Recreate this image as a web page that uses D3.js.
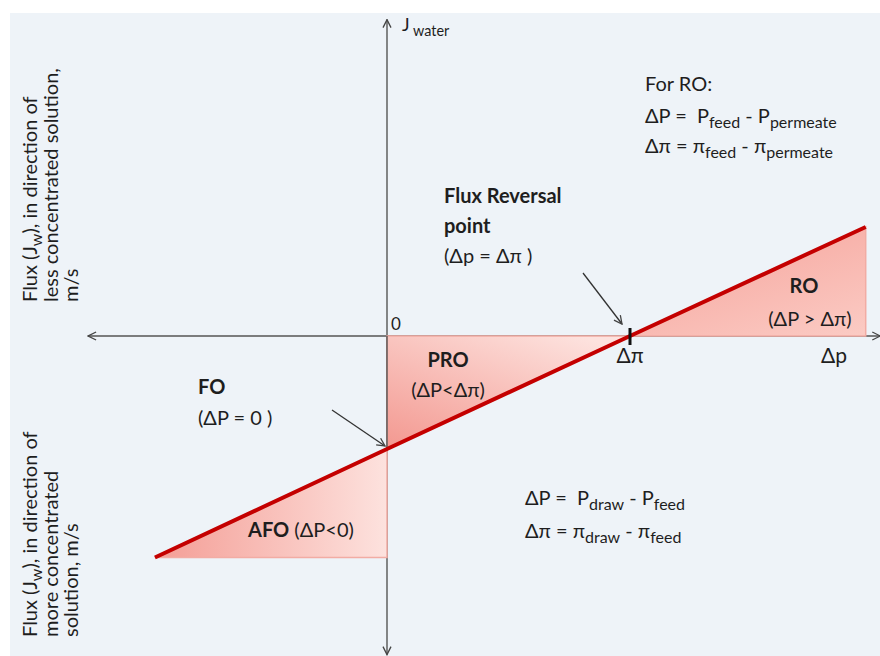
<!DOCTYPE html>
<html>
<head>
<meta charset="utf-8">
<script src="https://cdn.jsdelivr.net/npm/d3@7"></script>
<style>
  body { margin: 0; background: #fff; }
  svg text { font-family: Lato, "Open Sans", sans-serif; fill: #1e1e1e; white-space: pre; }
</style>
</head>
<body>
<div id="chart"></div>
<script>
// size of the drawing
var w = 880;
var h = 656;

// flux line, x in units of the osmotic pressure difference (Δπ = 1)
var deltaP = [-0.955, 0, 1, 1.97];
var flux = [-1.96, -1, 0, 0.965];

// the three shaded triangles
var regionNames = ["AFO", "PRO", "RO"];
var regionP = [[-0.955, 0, 0], [0, 1, 0], [1, 1.97, 1.97]];
var regionJ = [[-1.96, -1, -1.96], [0, 0, -1], [0, 0.965, 0]];

// axis extent and tick labels
var axisP = [-1.23, 2.03];
var axisJ = [-2.82, 2.8];
var tickP = [1, 1.84];
var tickLabels = ["\u0394\u03c0", "\u0394p"];

var x = d3.scaleLinear().domain([0, 1]).range([387, 630]);
var y = d3.scaleLinear().domain([0, -1]).range([336, 449]);

var svg = d3.select("#chart").append("svg")
  .attr("width", w)
  .attr("height", h);

// background panel
svg.append("rect")
  .attr("x", 10).attr("y", 13)
  .attr("width", w - 10).attr("height", h - 13)
  .attr("fill", "#eef3f8");

var defs = svg.append("defs");

// open arrow heads
defs.append("marker")
  .attr("id", "arr")
  .attr("viewBox", "0 0 10 10")
  .attr("refX", 9).attr("refY", 5)
  .attr("markerWidth", 10).attr("markerHeight", 10)
  .attr("markerUnits", "userSpaceOnUse")
  .attr("orient", "auto-start-reverse")
  .append("path")
  .attr("d", "M1,1 L9,5 L1,9")
  .attr("fill", "none")
  .attr("stroke", "#444")
  .attr("stroke-width", 1.3);

// gradients for the triangles
var grads = [
  { id: "gAFO", x1: 0, y1: 0.3, x2: 1, y2: 0.3, c1: "#f49d95", c2: "#fde2de" },
  { id: "gPRO", x1: 0, y1: 1, x2: 0.8, y2: 0, c1: "#f39890", c2: "#fde2de" },
  { id: "gRO", x1: 0.3, y1: 0, x2: 1, y2: 1, c1: "#f6a69e", c2: "#fbcbc4" }
];
grads.forEach(function(g) {
  var lg = defs.append("linearGradient")
    .attr("id", g.id)
    .attr("x1", g.x1).attr("y1", g.y1)
    .attr("x2", g.x2).attr("y2", g.y2);
  lg.append("stop").attr("offset", "0%").attr("stop-color", g.c1);
  lg.append("stop").attr("offset", "100%").attr("stop-color", g.c2);
});

// axes
svg.append("line")
  .attr("x1", x(axisP[0])).attr("x2", x(axisP[1]))
  .attr("y1", y(0)).attr("y2", y(0))
  .attr("stroke", "#555").attr("stroke-width", 1.4)
  .attr("marker-start", "url(#arr)")
  .attr("marker-end", "url(#arr)");

svg.append("line")
  .attr("x1", x(0)).attr("x2", x(0))
  .attr("y1", y(axisJ[1])).attr("y2", y(axisJ[0]))
  .attr("stroke", "#555").attr("stroke-width", 1.4)
  .attr("marker-start", "url(#arr)")
  .attr("marker-end", "url(#arr)");

// shaded regions
var tri = d3.line()
  .x(function(d) { return x(d[0]); })
  .y(function(d) { return y(d[1]); });

svg.selectAll(".region")
  .data(regionNames)
  .enter()
  .append("path")
  .attr("class", "region")
  .attr("d", function(d, i) {
    return tri(d3.zip(regionP[i], regionJ[i])) + "Z";
  })
  .attr("fill", function(d) { return "url(#g" + d + ")"; })
  .attr("stroke", "#f2aca4")
  .attr("stroke-width", 1.5);

// the y axis stays visible along the left side of PRO
svg.append("line")
  .attr("x1", x(0)).attr("x2", x(0))
  .attr("y1", y(0)).attr("y2", y(-1))
  .attr("stroke", "#555").attr("stroke-width", 1.4);

// flux line
svg.append("path")
  .datum(d3.zip(deltaP, flux))
  .attr("fill", "none")
  .attr("stroke", "#c40000")
  .attr("stroke-width", 4)
  .attr("d", tri);

// tick at Δπ
svg.append("line")
  .attr("x1", x(1)).attr("x2", x(1))
  .attr("y1", y(0) - 8).attr("y2", y(0) + 9)
  .attr("stroke", "#111").attr("stroke-width", 3);

// tick labels
svg.selectAll(".tlab")
  .data(tickP)
  .enter()
  .append("text")
  .attr("class", "tlab")
  .attr("x", function(d) { return x(d); })
  .attr("y", y(0) + 27)
  .attr("text-anchor", "middle")
  .attr("font-size", 21)
  .text(function(d, i) { return tickLabels[i]; });

svg.append("text")
  .attr("x", x(0) + 4).attr("y", y(0) - 6)
  .attr("font-size", 17)
  .text("0");

// text with sub scripts: parts are [text, kind] where kind is "", "sub" or "b"
function rich(px, py, size, parts, anchor) {
  var t = svg.append("text")
    .attr("x", px).attr("y", py)
    .attr("font-size", size)
    .attr("text-anchor", anchor || "start");
  var down = false;
  parts.forEach(function(p) {
    var s = t.append("tspan").text(p[0]);
    if (p[1] === "sub") {
      s.attr("font-size", size * 0.8).attr("dy", down ? 0 : 5);
      down = true;
    } else {
      if (down) s.attr("dy", -5);
      down = false;
      if (p[1] === "b") s.attr("font-weight", "bold");
    }
  });
  return t;
}

// J water
rich(402, 31, 18, [["J", ""], [" water", "sub"]]);

// y axis labels
function vlabel(px, py, lines) {
  lines.forEach(function(parts, i) {
    var t = rich(0, 0, 20, parts);
    t.attr("transform", "translate(" + (px + i * 20.5) + "," + py + ") rotate(-90)");
  });
}
vlabel(37, 302, [
  [["Flux (J", ""], ["w", "sub"], ["), in direction of", ""]],
  [["less concentrated solution,", ""]],
  [["m/s", ""]]
]);
vlabel(37, 637, [
  [["Flux (J", ""], ["w", "sub"], ["), in direction of", ""]],
  [["more concentrated", ""]],
  [["solution, m/s", ""]]
]);

// equations for RO
rich(645, 91, 20, [["For RO:", ""]]);
rich(645, 123, 20, [["\u0394P =  P", ""], ["feed", "sub"], [" - P", ""], ["permeate", "sub"]]);
rich(645, 153, 20, [["\u0394\u03c0 = \u03c0", ""], ["feed", "sub"], [" - \u03c0", ""], ["permeate", "sub"]]);

// equations for osmotic processes
rich(525, 505, 20, [["\u0394P =  P", ""], ["draw", "sub"], [" - P", ""], ["feed", "sub"]]);
rich(525, 538, 20, [["\u0394\u03c0 = \u03c0", ""], ["draw", "sub"], [" - \u03c0", ""], ["feed", "sub"]]);

// flux reversal point
rich(444, 203, 20, [["Flux Reversal", "b"]]);
rich(444, 233, 20, [["point", "b"]]);
rich(444, 263, 20, [["(\u0394p = \u0394\u03c0 )", ""]]);
svg.append("line")
  .attr("x1", 583).attr("y1", 273)
  .attr("x2", x(1) - 8).attr("y2", y(0) - 12)
  .attr("stroke", "#333").attr("stroke-width", 1.3)
  .attr("marker-end", "url(#arr)");

// region labels
rich(448, 367, 20, [["PRO", "b"]], "middle");
rich(448, 397, 20, [["(\u0394P<\u0394\u03c0)", ""]], "middle");
rich(804, 293, 20, [["RO", "b"]], "middle");
rich(810, 326, 20, [["(\u0394P > \u0394\u03c0)", ""]], "middle");
rich(248, 537, 20, [["AFO", "b"], [" (\u0394P<0)", ""]]);

// forward osmosis point
rich(198, 394, 20, [["FO", "b"]]);
rich(198, 425, 20, [["(\u0394P = 0 )", ""]]);
svg.append("line")
  .attr("x1", 332).attr("y1", 410)
  .attr("x2", x(0) - 2).attr("y2", y(-1) - 3)
  .attr("stroke", "#333").attr("stroke-width", 1.3)
  .attr("marker-end", "url(#arr)");
</script>
</body>
</html>
